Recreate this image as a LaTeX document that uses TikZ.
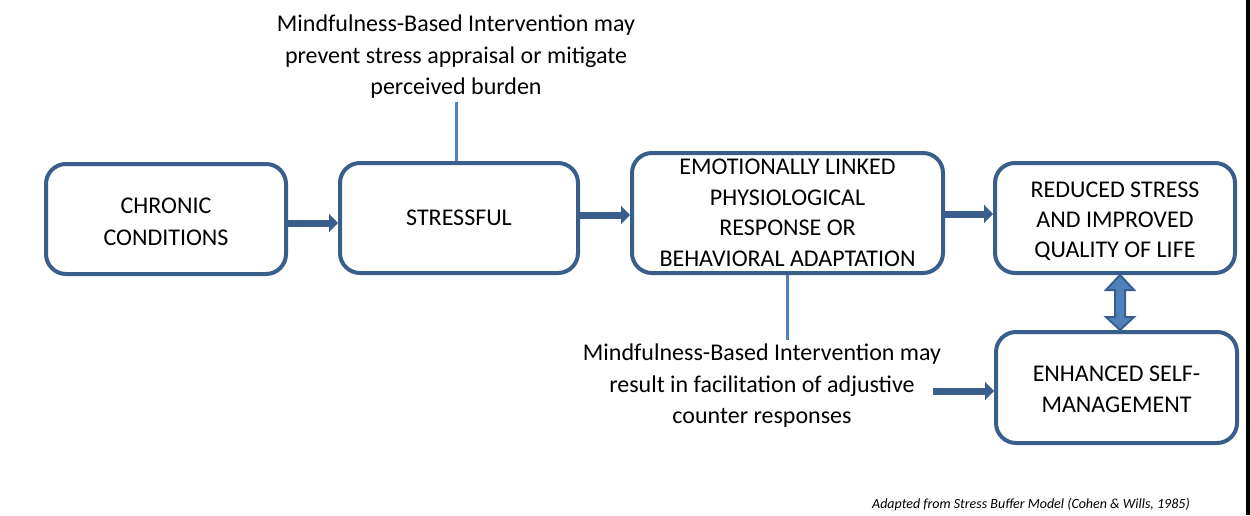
\documentclass[tikz,border=0pt]{standalone}
\usepackage{fontspec}
\setmainfont{Carlito}
\usetikzlibrary{arrows.meta,calc}
\definecolor{boxblue}{RGB}{58,94,140}
\definecolor{lineblue}{RGB}{79,129,189}
\begin{document}
\begin{tikzpicture}[x=1pt,y=-1pt,
  box/.style={draw=boxblue,line width=4pt,rounded corners=20pt,fill=white,
    align=center,font=\fontsize{24}{30.5}\selectfont,inner sep=0pt},
  note/.style={align=center,font=\fontsize{24}{31.5}\selectfont,inner sep=2pt},
  arr/.style={draw=boxblue,line width=7pt,-{Triangle[length=9pt,width=18pt]}},
  vline/.style={draw=lineblue,line width=3pt}]
\useasboundingbox (0,0) rectangle (1250,515);
\fill[black] (1246,0) rectangle (1250,515);
\node[box,minimum width=240pt,minimum height=110pt] (c) at (166,219) {};
\node[align=center,font=\fontsize{24}{32}\selectfont,inner sep=0pt] (ct) at (166,222) {CHRONIC\\CONDITIONS};
\node[box,minimum width=238pt,minimum height=110pt] (s) at (459,218) {STRESSFUL};
\node[box,minimum width=311pt,minimum height=120pt] (e) at (787.5,213) {EMOTIONALLY LINKED\\PHYSIOLOGICAL\\RESPONSE OR\\BEHAVIORAL ADAPTATION};
\node[box,minimum width=240pt,minimum height=110pt] (r) at (1115,218) {};
\node[align=center,font=\fontsize{24}{30}\selectfont,inner sep=0pt] (rt) at (1115,221) {REDUCED STRESS\\AND IMPROVED\\QUALITY OF LIFE};
\node[box,minimum width=241pt,minimum height=111pt] (m) at (1116.5,387.5) {};
\node[align=center,font=\fontsize{24}{31}\selectfont,inner sep=0pt] (mt) at (1116.5,389.5) {ENHANCED SELF-\\MANAGEMENT};
\node[note] (t1) at (456,57) {Mindfulness-Based Intervention may\\prevent stress appraisal or mitigate\\perceived burden};
\node[note] (t2) at (762,386) {Mindfulness-Based Intervention may\\result in facilitation of adjustive\\counter responses};
\node[anchor=east,inner sep=0pt,font=\fontsize{14}{16}\selectfont\itshape] (cap) at (1190,505) {Adapted from Stress Buffer Model (Cohen \& Wills, 1985)};
% arrows
\coordinate (a1) at ([yshift=-4pt]c.east);
\draw[arr] (a1) -- (s.west |- a1);
\coordinate (a2) at ([yshift=3pt]s.east);
\draw[arr] (a2) -- (e.west |- a2);
\coordinate (a3) at (e.east |- 0,214);
\draw[arr] (a3) -- (r.west |- a3);
\coordinate (a5) at ([yshift=-3.5pt]m.west);
\coordinate (a5s) at ([xshift=-10pt]t2.east);
\draw[arr] (a5s |- a5) -- (a5);
% vertical lines
\draw[vline] ([yshift=-1pt]t1.south) -- (t1.south |- s.north);
\draw[vline] (e.south) -- ([yshift=2pt]e.south |- t2.north);
% double arrow
\coordinate (dt) at (r.south -| 1120,0);
\coordinate (db) at (m.north -| 1120,0);
\filldraw[fill=lineblue,draw=boxblue,line width=2pt,line join=miter]
  (dt) -- ($(dt)+(14,15)$) -- ($(dt)+(5,15)$) -- ($(db)+(5,-13)$) -- ($(db)+(14,-13)$)
  -- (db) -- ($(db)+(-14,-13)$) -- ($(db)+(-5,-13)$) -- ($(dt)+(-5,15)$) -- ($(dt)+(-14,15)$) -- cycle;
\end{tikzpicture}
\end{document}
